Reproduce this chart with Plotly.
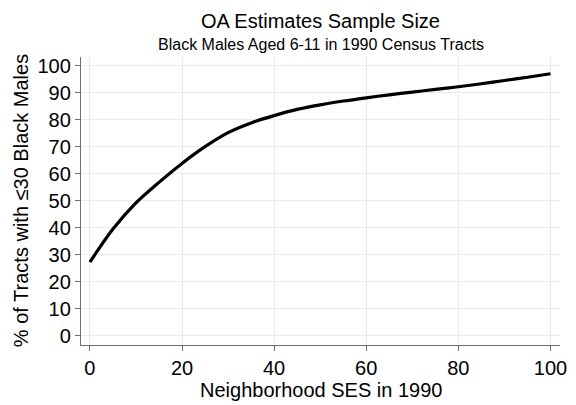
import plotly.graph_objects as go

# Smoothed share of tracts with a small sample, by neighborhood SES percentile
ses = [0, 5, 10, 15, 20, 25, 30, 35, 40, 45, 50, 55, 60, 65, 70, 75, 80, 85, 90, 95, 100]
pct_small = [27.3, 39.5, 49.2, 56.8, 63.8, 70.0, 75.2, 78.8, 81.5, 83.8, 85.5,
             86.9, 88.1, 89.2, 90.2, 91.2, 92.2, 93.3, 94.5, 95.7, 97.0]

x_ticks = [0, 20, 40, 60, 80, 100]
y_ticks = [0, 10, 20, 30, 40, 50, 60, 70, 80, 90, 100]

title_text = "OA Estimates Sample Size"
subtitle_text = "Black Males Aged 6-11 in 1990 Census Tracts"
x_title = "Neighborhood SES in 1990"
y_title = "% of Tracts with \u226430 Black Males"

FONT = "Liberation Sans, Arial, sans-serif"
AXIS_COLOR = "#6e6e6e"
GRID_COLOR = "#ebebeb"

fig = go.Figure()
fig.add_trace(go.Scatter(
    x=ses, y=pct_small, mode="lines",
    line=dict(color="black", width=3.2, shape="spline", smoothing=0.8),
    hoverinfo="skip", showlegend=False,
))

axis_common = dict(
    showline=True, linecolor=AXIS_COLOR, linewidth=1.3,
    ticks="outside", ticklen=5, tickwidth=1.2, tickcolor=AXIS_COLOR,
    showgrid=True, gridcolor=GRID_COLOR, gridwidth=1,
    zeroline=False, mirror=False,
    tickfont=dict(family=FONT, size=20, color="black"),
)

fig.update_xaxes(range=[-1.93, 102.07], tickvals=x_ticks, **axis_common)
fig.update_yaxes(range=[-3.4, 103.2], tickvals=y_ticks, **axis_common)

fig.update_layout(
    width=576, height=405,
    margin=dict(l=81, r=9, t=57, b=60, pad=0),
    paper_bgcolor="white", plot_bgcolor="white",
    font=dict(family=FONT, color="black"),
    annotations=[
        dict(text=title_text, xref="paper", yref="paper", x=0.5, y=1.125,
             xanchor="center", yanchor="middle", showarrow=False,
             font=dict(family=FONT, size=20, color="black")),
        dict(text=subtitle_text, xref="paper", yref="paper", x=0.5, y=1.044,
             xanchor="center", yanchor="middle", showarrow=False,
             font=dict(family=FONT, size=16, color="black")),
        dict(text=x_title, xref="paper", yref="paper", x=0.5, y=-0.157,
             xanchor="center", yanchor="middle", showarrow=False,
             font=dict(family=FONT, size=20, color="black")),
        dict(text=y_title, xref="paper", yref="paper", x=-0.125, y=0.5,
             xanchor="center", yanchor="middle", showarrow=False, textangle=-90,
             font=dict(family=FONT, size=20, color="black")),
    ],
)

fig.write_html("out.html")
